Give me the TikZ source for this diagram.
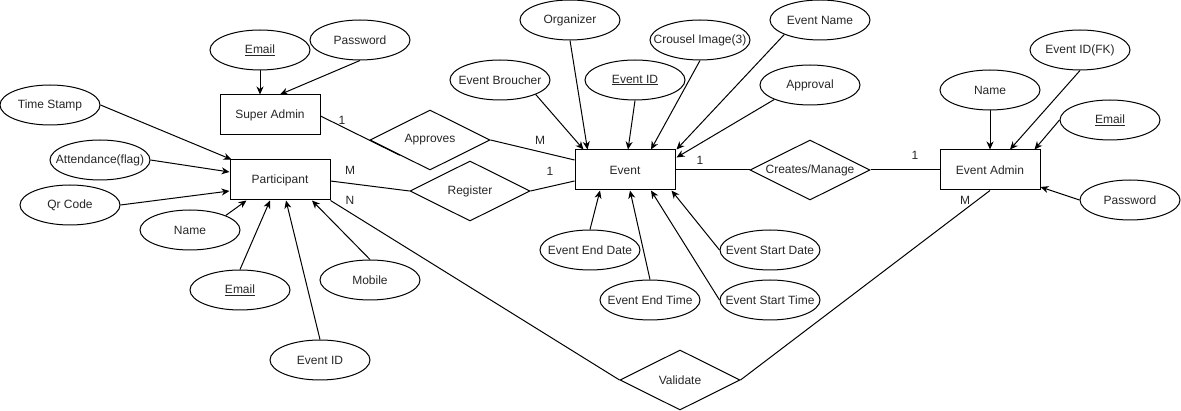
\documentclass[tikz,border=0pt]{standalone}
\usepackage{fontspec}
\setmainfont{Liberation Sans}
\usetikzlibrary{shapes.geometric,arrows.meta,calc}
\newcommand{\zw}[1]{\makebox[0pt][c]{#1}}
\begin{document}
\begin{tikzpicture}[x=1pt,y=-1pt,
  every node/.style={font=\fontsize{12}{14}\selectfont, text=black!85},
  attr/.style={draw, ellipse, minimum width=100pt, minimum height=40pt, inner sep=0pt, line width=1pt},
  ent/.style={draw, rectangle, minimum width=100pt, minimum height=40pt, inner sep=0pt, line width=1pt},
  rel/.style={draw, diamond, aspect=2, minimum width=120pt, minimum height=60pt, inner sep=0pt, line width=1pt},
  arr/.style={line width=1pt, -{Stealth[length=8pt,width=7pt,inset=2.5pt]}},
  lnk/.style={line width=1pt},
  card/.style={inner sep=0pt}]
\useasboundingbox (0,0) rectangle (1181,411);

% entities
\node[ent] (super) at (270,115) {Super Admin};
\node[ent] (part) at (280,180) {Participant};
\node[ent] (event) at (625,170) {Event};
\node[ent] (admin) at (990,170) {Event Admin};

% relationships
\node[rel] (approves) at (430,140) {\zw{Approves}};
\node[rel] (register) at (470,191) {\zw{Register}};
\node[rel] (creates) at (810,170) {\zw{Creates/Manage}};
\node[rel] (validate) at (680,380) {\zw{Validate}};

% super admin attributes
\node[attr] (semail) at (260,50) {\zw{\underline{Email}}};
\node[attr] (spass) at (360,40) {\zw{Password}};

% participant attributes
\node[attr] (ts) at (50,105) {\zw{Time Stamp}};
\node[attr] (att) at (100,160) {\zw{Attendance(flag)}};
\node[attr] (qr) at (70,205) {\zw{Qr Code}};
\node[attr] (pname) at (190,230) {\zw{Name}};
\node[attr] (pemail) at (240,290) {\zw{\underline{Email}}};
\node[attr] (peid) at (320,360) {\zw{Event ID}};
\node[attr] (mobile) at (370,280) {\zw{Mobile}};

% event attributes
\node[attr] (org) at (570,20) {\zw{Organizer}};
\node[attr] (brou) at (500,80) {\zw{Event Broucher}};
\node[attr] (eid) at (635,80) {\zw{\underline{Event ID}}};
\node[attr] (crousel) at (700,40) {\zw{Crousel Image(3)}};
\node[attr] (ename) at (820,20) {\zw{Event Name}};
\node[attr] (approval) at (810,85) {\zw{Approval}};
\node[attr] (edate) at (590,250) {\zw{Event End Date}};
\node[attr] (etime) at (650,300) {\zw{Event End Time}};
\node[attr] (sdate) at (770,250) {\zw{Event Start Date}};
\node[attr] (stime) at (770,300) {\zw{Event Start Time}};

% event admin attributes
\node[attr] (aname) at (990,90) {\zw{Name}};
\node[attr] (fk) at (1080,50) {\zw{Event ID(FK)}};
\node[attr] (aemail) at (1110,120) {\zw{\underline{Email}}};
\node[attr] (apass) at (1130,200) {\zw{Password}};

% attribute connectors
\draw[arr] (semail.south) -- ($(super.north)+(-10,0)$);
\draw[arr] (spass.south) -- ($(super.north)+(10,0)$);

\draw[arr] (ts.east) -- ($(part.north west)+(2,0)$);
\draw[arr] (att.east) -- ($(part.west)+(0,-8)$);
\draw[arr] (qr.east) -- ($(part.west)+(0,11)$);
\draw[arr] (pname.north east) -- ($(part.south west)+(17,0)$);
\draw[arr] (pemail.north) -- ($(part.south)+(-10,0)$);
\draw[arr] (peid.north) -- ($(part.south)+(6,0)$);
\draw[arr] (mobile.north) -- ($(part.south)+(32,0)$);

\draw[arr] (org.south) -- ($(event.north west)+(13,0)$);
\draw[arr] (brou.south east) -- ($(event.north west)+(9,0)$);
\draw[arr] (eid.south) -- ($(event.north)+(3,0)$);
\draw[arr] (crousel.south) -- ($(event.north)+(26,0)$);
\draw[arr] (ename.south west) -- ($(event.north east)+(1,0)$);
\draw[arr] (approval.south west) -- ($(event.north east)+(1,8)$);
\draw[arr] (edate.north) -- ($(event.south)+(-25,0)$);
\draw[arr] (etime.north) -- ($(event.south)+(5,0)$);
\draw[arr] (sdate.west) -- ($(event.south east)+(-4,0)$);
\draw[arr] (stime.west) -- ($(event.south)+(26,0)$);

\draw[arr] (aname.south) -- (admin.north);
\draw[arr] (fk.south) -- ($(admin.north)+(20,0)$);
\draw[arr] (aemail.west) -- ($(admin.north east)+(-6,0)$);
\draw[arr] (apass.west) -- ($(admin.east)+(0,17)$);

% relationship connectors
\draw[lnk] ($(super.east)+(0,1)$) -- ($(approves.west)!0.5!(approves.south)$);
\draw[lnk] (approves.east) -- ($(event.west)+(0,-10)$);
\draw[lnk] ($(part.east)+(0,1)$) -- (register.west);
\draw[lnk] (register.east) -- ($(event.west)+(0,11)$);
\draw[lnk] (event.east) -- (creates.west);
\draw[lnk] (creates.east) -- (admin.west);
\draw[lnk] (part.south east) -- (validate.west);
\draw[lnk] (admin.south) -- (validate.east);

% cardinalities
\node[card] (c1) at (342,120) {1};
\node[card] (c2) at (540,140) {M};
\node[card] (c3) at (350,170) {M};
\node[card] (c4) at (350,200) {N};
\node[card] (c5) at (550,171) {1};
\node[card] (c6) at (700,160) {1};
\node[card] (c7) at (915,155) {1};
\node[card] (c8) at (965,200) {M};
\end{tikzpicture}
\end{document}
